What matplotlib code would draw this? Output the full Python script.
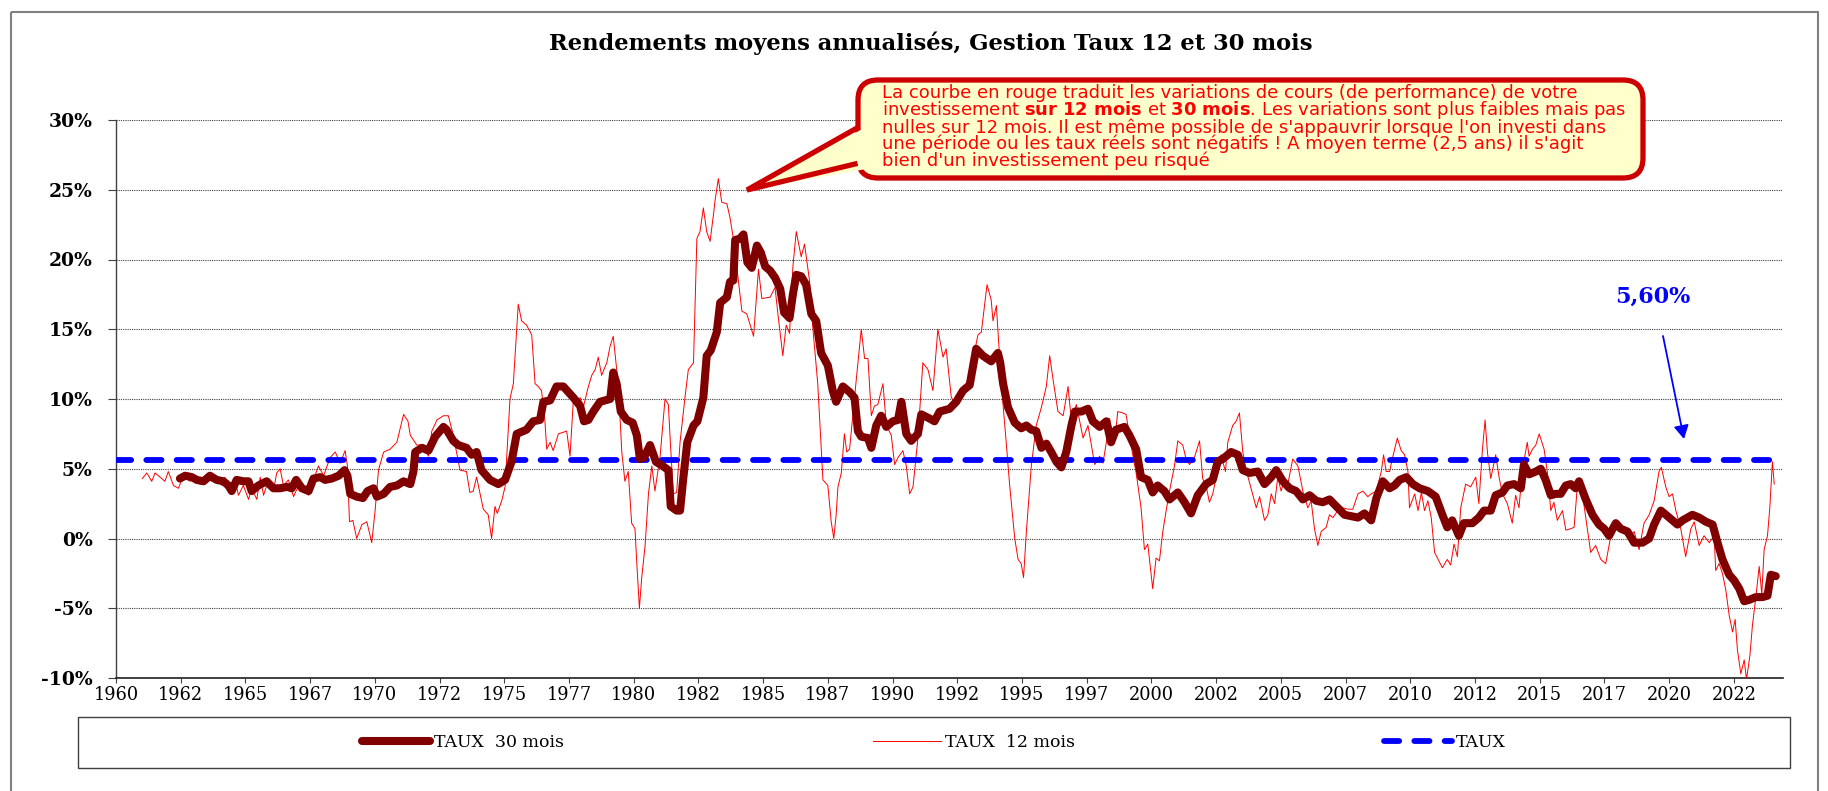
import numpy as np
import matplotlib.pyplot as plt
from matplotlib.patches import FancyBboxPatch, Polygon, Rectangle

plt.rcParams.update({"font.family": "DejaVu Serif"})
plt.rcParams.update({"mathtext.fontset": "dejavusans"})

W, H = 1828, 791

# ---------------------------------------------------------------------------
# data (% per year)
# ---------------------------------------------------------------------------
# TAUX 30 mois (thick dark red)
d30 = [1962.47, 1962.67, 1962.93, 1963.12, 1963.38, 1963.63, 1963.89, 1964.15,
       1964.34, 1964.47, 1964.66, 1964.92, 1965.12, 1965.24, 1965.50, 1965.82,
       1966.08, 1966.34, 1966.60, 1966.79, 1966.96, 1967.18, 1967.44, 1967.63,
       1967.89, 1968.08, 1968.34, 1968.60, 1968.83, 1968.94, 1969.05, 1969.30,
       1969.54, 1969.72, 1969.95, 1970.08, 1970.34, 1970.59, 1970.85, 1971.11,
       1971.37, 1971.49, 1971.56, 1971.82, 1972.07, 1972.33, 1972.65, 1972.77,
       1973.03, 1973.22, 1973.54, 1973.74, 1973.93, 1974.12, 1974.45, 1974.77,
       1975.03, 1975.28, 1975.48, 1975.86, 1976.12, 1976.38, 1976.51, 1976.77,
       1977.02, 1977.28, 1977.67, 1977.93, 1978.08, 1978.25, 1978.44, 1978.70,
       1979.09, 1979.21, 1979.34, 1979.50, 1979.73, 1979.96, 1980.12, 1980.24,
       1980.40, 1980.63, 1980.86, 1981.12, 1981.34, 1981.43, 1981.66, 1981.79,
       1981.92, 1982.07, 1982.31, 1982.46, 1982.69, 1982.82, 1982.98, 1983.21,
       1983.34, 1983.60, 1983.72, 1983.85, 1983.92, 1984.11, 1984.24, 1984.39,
       1984.56, 1984.76, 1984.91, 1985.08, 1985.27, 1985.46, 1985.66, 1985.81,
       1986.02, 1986.15, 1986.28, 1986.47, 1986.66, 1986.86, 1987.05, 1987.24,
       1987.50, 1987.69, 1987.82, 1988.08, 1988.34, 1988.53, 1988.66, 1988.79,
       1989.05, 1989.18, 1989.37, 1989.56, 1989.76, 1990.01, 1990.21, 1990.34,
       1990.53, 1990.72, 1990.98, 1991.11, 1991.43, 1991.62, 1991.82, 1992.20,
       1992.46, 1992.72, 1992.98, 1993.23, 1993.49, 1993.81, 1994.07, 1994.16,
       1994.27, 1994.46, 1994.72, 1994.97, 1995.17, 1995.36, 1995.55, 1995.75,
       1995.94, 1996.13, 1996.33, 1996.52, 1996.71, 1996.91, 1997.04, 1997.29,
       1997.55, 1997.74, 1998.00, 1998.26, 1998.44, 1998.63, 1998.96, 1999.15,
       1999.41, 1999.60, 1999.86, 2000.05, 2000.24, 2000.50, 2000.70, 2001.02,
       2001.28, 2001.53, 2001.79, 2002.11, 2002.37, 2002.56, 2002.82, 2003.08,
       2003.34, 2003.53, 2003.79, 2004.11, 2004.37, 2004.63, 2004.82, 2005.08,
       2005.34, 2005.59, 2005.85, 2006.11, 2006.37, 2006.62, 2006.88, 2007.20,
       2007.46, 2007.72, 2007.98, 2008.23, 2008.49, 2008.69, 2008.94, 2009.20,
       2009.39, 2009.59, 2009.85, 2010.10, 2010.36, 2010.68, 2010.98, 2011.24,
       2011.43, 2011.62, 2011.88, 2012.07, 2012.40, 2012.65, 2012.85, 2013.11,
       2013.30, 2013.56, 2013.75, 2014.01, 2014.27, 2014.39, 2014.59, 2014.85,
       2015.04, 2015.23, 2015.43, 2015.62, 2015.81, 2016.01, 2016.20, 2016.39,
       2016.52, 2016.78, 2017.04, 2017.29, 2017.49, 2017.68, 2017.94, 2018.13,
       2018.39, 2018.65, 2018.97, 2019.23, 2019.42, 2019.68, 2019.94, 2020.19,
       2020.32, 2020.52, 2020.90, 2021.16, 2021.42, 2021.68, 2021.87, 2022.06,
       2022.32, 2022.51, 2022.71, 2022.90, 2023.09, 2023.35, 2023.61, 2023.80,
       2023.93, 2024.12]
taux30 = [4.3, 4.5, 4.4, 4.2, 4.1, 4.5, 4.2, 4.1,
          3.8, 3.4, 4.2, 4.1, 4.1, 3.4, 3.8, 4.1,
          3.6, 3.6, 3.7, 3.6, 4.2, 3.6, 3.4, 4.3,
          4.4, 4.2, 4.3, 4.5, 4.9, 4.5, 3.2, 3.0,
          2.9, 3.4, 3.6, 3.0, 3.2, 3.7, 3.8, 4.1,
          3.9, 4.8, 6.2, 6.5, 6.3, 7.3, 8.0, 7.8,
          7.0, 6.7, 6.5, 6.0, 6.2, 4.9, 4.2, 3.9,
          4.2, 5.5, 7.5, 7.8, 8.4, 8.5, 9.8, 9.9,
          10.9, 10.9, 10.1, 9.5, 8.4, 8.5, 9.1, 9.8,
          10.0, 11.9, 11.1, 9.1, 8.5, 8.3, 7.4, 5.7,
          5.8, 6.7, 5.5, 5.2, 4.9, 2.3, 2.0, 2.0,
          4.4, 6.9, 8.1, 8.4, 10.1, 13.1, 13.5, 14.8,
          16.9, 17.3, 18.4, 18.5, 21.4, 21.5, 21.8, 19.8,
          19.4, 21.0, 20.5, 19.5, 19.2, 18.7, 17.9, 16.2,
          15.8, 17.5, 18.9, 18.8, 18.2, 16.1, 15.6, 13.3,
          12.4, 10.6, 9.8, 10.9, 10.5, 10.1, 7.7, 7.3,
          7.2, 6.5, 8.1, 8.8, 8.0, 8.4, 8.5, 9.8,
          7.5, 7.0, 7.5, 8.9, 8.6, 8.4, 9.1, 9.3,
          9.8, 10.6, 11.0, 13.6, 13.1, 12.7, 13.3, 12.6,
          11.1, 9.4, 8.3, 7.9, 8.1, 7.8, 7.7, 6.5,
          6.8, 6.2, 5.5, 5.1, 6.2, 8.1, 9.1, 9.1,
          9.3, 8.4, 8.0, 8.4, 6.9, 7.8, 8.0, 7.4,
          6.4, 4.4, 4.2, 3.3, 3.8, 3.4, 2.8, 3.3,
          2.6, 1.8, 3.1, 3.9, 4.2, 5.5, 5.8, 6.2,
          6.0, 4.9, 4.7, 4.8, 3.9, 4.4, 4.9, 4.1,
          3.6, 3.4, 2.8, 3.1, 2.7, 2.6, 2.8, 2.2,
          1.7, 1.6, 1.5, 1.8, 1.3, 2.9, 4.1, 3.6,
          3.8, 4.2, 4.4, 3.9, 3.6, 3.4, 3.0, 1.7,
          0.8, 1.3, 0.2, 1.1, 1.1, 1.5, 2.0, 2.0,
          3.1, 3.3, 3.8, 3.9, 3.6, 5.3, 4.6, 4.8,
          5.0, 4.2, 3.1, 3.2, 3.2, 3.8, 3.9, 3.6,
          4.1, 2.8, 1.7, 1.0, 0.7, 0.2, 1.1, 0.7,
          0.5, -0.3, -0.3, 0.0, 1.0, 2.0, 1.6, 1.2,
          1.0, 1.3, 1.7, 1.5, 1.2, 1.0, -0.3, -1.5,
          -2.6, -3.0, -3.6, -4.5, -4.4, -4.2, -4.2, -4.1,
          -2.6, -2.7]

# TAUX 12 mois (thin red)
d12 = [1961.02, 1961.19, 1961.38, 1961.51, 1961.70, 1961.89, 1962.02, 1962.22,
       1962.41, 1962.60, 1962.86, 1963.05, 1963.25, 1963.51, 1963.70, 1963.89,
       1964.09, 1964.21, 1964.41, 1964.60, 1964.73, 1964.92, 1965.12, 1965.24,
       1965.44, 1965.57, 1965.70, 1965.89, 1966.08, 1966.21, 1966.34, 1966.47,
       1966.66, 1966.86, 1967.05, 1967.24, 1967.44, 1967.63, 1967.82, 1968.02,
       1968.27, 1968.47, 1968.66, 1968.85, 1968.94, 1969.02, 1969.15, 1969.30,
       1969.50, 1969.69, 1969.88, 1970.01, 1970.14, 1970.34, 1970.59, 1970.85,
       1971.11, 1971.28, 1971.37, 1971.62, 1971.88, 1972.07, 1972.20, 1972.40,
       1972.65, 1972.84, 1973.03, 1973.29, 1973.54, 1973.67, 1973.80, 1973.93,
       1974.19, 1974.38, 1974.51, 1974.64, 1974.73, 1974.90, 1975.03, 1975.22,
       1975.35, 1975.54, 1975.67, 1975.86, 1976.06, 1976.19, 1976.31, 1976.44,
       1976.57, 1976.64, 1976.77, 1976.89, 1977.09, 1977.41, 1977.54, 1977.67,
       1977.80, 1977.93, 1978.05, 1978.25, 1978.38, 1978.51, 1978.63, 1978.76,
       1978.96, 1979.09, 1979.21, 1979.41, 1979.54, 1979.66, 1979.79, 1979.92,
       1980.05, 1980.12, 1980.22, 1980.31, 1980.44, 1980.57, 1980.70, 1980.82,
       1981.02, 1981.21, 1981.34, 1981.40, 1981.53, 1981.66, 1981.79, 1981.98,
       1982.11, 1982.31, 1982.44, 1982.56, 1982.69, 1982.82, 1982.95, 1983.08,
       1983.14, 1983.27, 1983.40, 1983.60, 1983.72, 1983.85, 1983.98, 1984.18,
       1984.37, 1984.63, 1984.82, 1984.95, 1985.27, 1985.46, 1985.57, 1985.76,
       1985.89, 1986.02, 1986.15, 1986.28, 1986.47, 1986.60, 1986.79, 1986.92,
       1987.11, 1987.31, 1987.50, 1987.63, 1987.73, 1987.82, 1987.89, 1988.02,
       1988.14, 1988.23, 1988.34, 1988.53, 1988.79, 1988.92, 1989.05, 1989.18,
       1989.30, 1989.43, 1989.63, 1989.76, 1989.95, 1990.08, 1990.21, 1990.40,
       1990.53, 1990.66, 1990.79, 1990.98, 1991.17, 1991.37, 1991.56, 1991.75,
       1991.95, 1992.07, 1992.27, 1992.46, 1992.65, 1992.91, 1993.11, 1993.30,
       1993.43, 1993.56, 1993.65, 1993.81, 1993.88, 1994.01, 1994.20, 1994.39,
       1994.52, 1994.72, 1994.85, 1994.97, 1995.06, 1995.17, 1995.36, 1995.55,
       1995.75, 1995.94, 1996.07, 1996.20, 1996.39, 1996.59, 1996.78, 1996.91,
       1997.10, 1997.36, 1997.55, 1997.68, 1997.81, 1998.00, 1998.13, 1998.26,
       1998.38, 1998.57, 1998.70, 1998.89, 1999.02, 1999.21, 1999.41, 1999.60,
       1999.73, 1999.86, 2000.05, 2000.18, 2000.31, 2000.44, 2000.57, 2000.70,
       2000.89, 2001.02, 2001.21, 2001.34, 2001.47, 2001.66, 2001.86, 2001.98,
       2002.11, 2002.24, 2002.37, 2002.50, 2002.69, 2002.86, 2002.95, 2003.14,
       2003.27, 2003.40, 2003.53, 2003.66, 2003.85, 2004.05, 2004.18, 2004.37,
       2004.50, 2004.63, 2004.76, 2004.88, 2005.01, 2005.14, 2005.27, 2005.46,
       2005.66, 2005.85, 2006.04, 2006.17, 2006.30, 2006.43, 2006.56, 2006.75,
       2006.88, 2007.01, 2007.20, 2007.40, 2007.59, 2007.78, 2007.98, 2008.17,
       2008.36, 2008.49, 2008.69, 2008.88, 2008.97, 2009.07, 2009.20, 2009.33,
       2009.50, 2009.65, 2009.78, 2009.91, 2009.97, 2010.17, 2010.30, 2010.43,
       2010.55, 2010.68, 2010.81, 2010.94, 2011.24, 2011.43, 2011.56, 2011.69,
       2011.82, 2011.95, 2012.14, 2012.33, 2012.53, 2012.65, 2012.78, 2012.89,
       2012.98, 2013.11, 2013.30, 2013.43, 2013.56, 2013.75, 2013.94, 2014.07,
       2014.20, 2014.33, 2014.52, 2014.59, 2014.72, 2014.85, 2014.98, 2015.17,
       2015.30, 2015.43, 2015.55, 2015.68, 2015.88, 2016.01, 2016.20, 2016.33,
       2016.46, 2016.65, 2016.84, 2016.97, 2017.16, 2017.36, 2017.55, 2017.74,
       2017.87, 2018.07, 2018.26, 2018.45, 2018.65, 2018.84, 2019.03, 2019.23,
       2019.42, 2019.61, 2019.70, 2019.87, 2020.00, 2020.13, 2020.26, 2020.45,
       2020.64, 2020.84, 2020.97, 2021.16, 2021.35, 2021.55, 2021.74, 2021.80,
       2021.93, 2022.06, 2022.19, 2022.32, 2022.45, 2022.55, 2022.64, 2022.77,
       2022.90, 2022.99, 2023.12, 2023.22, 2023.35, 2023.48, 2023.58, 2023.67,
       2023.80, 2023.89, 2023.99, 2024.06]
taux12 = [4.3, 4.7, 4.1, 4.7, 4.4, 4.1, 4.8, 3.8,
          3.6, 4.5, 4.1, 4.5, 3.9, 4.4, 4.1, 4.4,
          3.8, 4.4, 3.2, 4.2, 3.1, 3.8, 2.8, 3.6,
          2.8, 4.4, 3.1, 4.2, 3.4, 4.7, 5.0, 3.8,
          4.2, 3.0, 3.8, 3.6, 3.1, 4.2, 5.2, 4.5,
          5.8, 6.2, 5.4, 6.3, 5.2, 1.2, 1.3, 0.0,
          1.0, 1.2, -0.3, 2.0, 4.9, 6.2, 6.4, 6.9,
          8.9, 8.4, 7.4, 6.7, 6.7, 5.9, 7.7, 8.5,
          8.8, 8.8, 7.4, 4.9, 4.8, 3.3, 3.4, 4.4,
          2.1, 1.7, 0.0, 2.3, 1.8, 2.7, 3.7, 10.0,
          11.1, 16.8, 15.6, 15.3, 14.6, 11.1, 10.9, 10.6,
          8.4, 6.4, 6.9, 6.3, 7.5, 7.7, 5.9, 10.0,
          9.6, 10.1, 9.4, 10.9, 11.7, 12.1, 13.0, 11.7,
          12.6, 13.8, 14.5, 10.9, 6.2, 4.1, 4.8, 1.1,
          0.7, -1.8, -5.0, -2.8, -0.5, 3.2, 5.2, 3.4,
          5.9, 10.0, 9.6, 7.4, 3.2, 3.3, 6.9, 10.1,
          12.1, 12.6, 21.5, 22.0, 23.7, 22.0, 21.3, 23.2,
          24.2, 25.8, 24.1, 24.0, 23.0, 21.5, 19.5, 16.3,
          16.1, 14.5, 19.3, 17.2, 17.3, 18.0, 16.1, 13.1,
          15.3, 14.7, 19.5, 22.0, 20.2, 21.1, 18.5, 15.1,
          11.1, 4.2, 3.8, 1.2, 0.0, 1.7, 3.7, 4.7,
          7.5, 6.2, 6.4, 10.1, 15.0, 12.9, 12.9, 8.8,
          9.5, 9.6, 11.1, 8.1, 7.4, 5.3, 5.8, 6.3,
          5.2, 3.2, 3.7, 7.2, 12.6, 12.1, 10.6, 15.0,
          13.0, 13.6, 10.1, 9.6, 10.1, 11.4, 12.9, 14.6,
          14.8, 16.8, 18.2, 17.1, 15.6, 16.7, 11.1, 6.9,
          3.9, 0.0, -1.5, -1.8, -2.8, 0.5, 5.2, 8.1,
          9.4, 10.9, 13.1, 11.4, 9.1, 8.8, 10.9, 8.4,
          9.6, 7.2, 8.1, 6.7, 5.3, 5.9, 5.4, 6.9,
          8.6, 6.8, 9.1, 9.0, 8.9, 6.7, 4.7, 2.2,
          -0.8, -0.4, -3.6, -1.4, -1.6, 0.5, 2.0, 3.4,
          5.2, 7.0, 6.7, 5.7, 5.3, 5.8, 7.0, 4.3,
          3.8, 2.6, 3.2, 4.4, 6.0, 4.8, 6.9, 8.1,
          8.4, 9.0, 6.2, 4.9, 3.6, 2.2, 3.0, 1.3,
          1.7, 3.2, 2.5, 4.4, 3.4, 4.2, 3.9, 5.7,
          5.2, 3.4, 2.2, 2.7, 0.7, -0.5, 0.5, 0.8,
          1.7, 1.5, 2.0, 2.2, 2.1, 2.1, 3.2, 3.4,
          3.0, 3.2, 3.4, 4.8, 6.0, 4.8, 4.8, 5.9,
          7.2, 6.3, 6.0, 4.8, 2.2, 3.2, 2.0, 3.3,
          2.0, 2.7, 1.5, -1.0, -2.1, -1.5, -1.9, -0.4,
          -1.3, 2.2, 3.9, 3.7, 4.4, 2.5, 6.2, 8.5,
          6.2, 4.3, 6.0, 4.4, 3.2, 2.5, 1.1, 3.1,
          2.2, 4.9, 6.9, 5.9, 6.4, 6.7, 7.5, 6.4,
          4.7, 2.0, 2.6, 1.3, 2.0, 0.6, 0.7, 0.8,
          3.9, 3.2, 0.7, -1.0, -0.5, -1.5, -1.8, 0.1,
          1.2, 1.1, 0.5, 0.0, 0.5, -0.8, 1.1, 1.7,
          2.7, 4.8, 5.1, 3.7, 3.0, 3.2, 2.0, 0.7,
          -1.3, 0.7, 1.2, -0.5, 0.2, -0.3, 0.2, -2.3,
          -1.8, -2.5, -3.7, -5.5, -6.7, -5.8, -8.0, -9.7,
          -8.7, -10.1, -8.4, -6.2, -4.2, -2.0, -4.0, -0.8,
          0.2, 2.2, 5.5, 3.9]

# TAUX (average rate, dashed blue)
d_taux = [1960.0, 2024.2]
taux = [5.6, 5.6]

# axis ticks
x_ticks = [1960 + 2.5 * k for k in range(26)]
x_labels = [str(int(t)) for t in x_ticks]
y_ticks = [-10, -5, 0, 5, 10, 15, 20, 25, 30]
y_labels = [f"{v}%" for v in y_ticks]

title = "Rendements moyens annualisés, Gestion Taux 12 et 30 mois"
note = ["La courbe en rouge traduit les variations de cours (de performance) de votre",
        r"investissement $\mathbf{sur\ 12\ mois}$ et $\mathbf{30\ mois}$. Les variations sont plus faibles mais pas",
        "nulles sur 12 mois. Il est même possible de s'appauvrir lorsque l'on investi dans",
        "une période ou les taux réels sont négatifs ! A moyen terme (2,5 ans) il s'agit",
        "bien d'un investissement peu risqué"]


def fx(px):
    return px / W


def fy(py):
    return 1 - py / H


fig = plt.figure(figsize=(W / 100, H / 100), dpi=100)
ax = fig.add_axes([fx(116), fy(678), fx(1782.5) - fx(116), fy(120) - fy(678)])

ax.plot(d12, taux12, color="#FF0000", lw=0.7, label="TAUX  12 mois", zorder=3)
ax.plot(d_taux, taux, color="#0000FF", lw=4.2, linestyle=(0, (2.6, 2.6)),
        dash_capstyle="round", label="TAUX", zorder=4)
ax.plot(d30, taux30, color="#800000", lw=5.8, solid_joinstyle="round",
        solid_capstyle="round", label="TAUX  30 mois", zorder=5)

ax.set_xlim(1960, 2024.38)
ax.set_ylim(-10, 30)
ax.set_xticks(x_ticks)
ax.set_xticklabels(x_labels, fontsize=12.8)
ax.set_yticks(y_ticks)
ax.set_yticklabels(y_labels, fontsize=13.5, fontweight="bold")
ax.tick_params(axis="y", direction="out", length=5.8, width=0.8, pad=11, color="#404040")
ax.tick_params(axis="x", direction="out", length=3.6, width=0.8, pad=2.5, color="#404040")
ax.yaxis.grid(True, color="#404040", linestyle=(0, (1, 1)), lw=0.8)
ax.set_axisbelow(True)
for s in ["top", "right"]:
    ax.spines[s].set_visible(False)
ax.spines["left"].set_color("#404040")
ax.spines["bottom"].set_color("#202020")
ax.spines["left"].set_linewidth(1.0)
ax.spines["bottom"].set_linewidth(1.2)

h, l = ax.get_legend_handles_labels()
order = [2, 0, 1]
ax.legend([h[i] for i in order], [l[i] for i in order], loc="center",
          bbox_to_anchor=(fx(934), fy(742.5)), bbox_transform=fig.transFigure,
          ncol=3, frameon=False, fontsize=12.5, handlelength=3.9,
          handletextpad=0.25, columnspacing=17.8)

# overlay in pixel coordinates for the decorations
ov = fig.add_axes([0, 0, 1, 1])
ov.set_xlim(0, W)
ov.set_ylim(H, 0)
ov.axis("off")

ov.add_patch(Rectangle((11, 12), 1807, 800, fill=False, edgecolor="#808080", lw=1.5))
ov.add_patch(Rectangle((78, 717), 1712, 51, fill=False, edgecolor="#404040", lw=1.0))

ov.text(931, 43, title, ha="center", va="center", fontsize=16.3, fontweight="bold")

# callout
ov.add_patch(FancyBboxPatch((858, 80), 785, 98, boxstyle="round,pad=0,rounding_size=20",
                            facecolor="#FFFFCC", edgecolor="#CC0000", lw=3.8, zorder=2))
ov.add_patch(Polygon([(747, 190), (872, 124), (872, 168)], closed=True,
                     facecolor="#FFFFCC", edgecolor="none", zorder=3))
ov.plot([857, 747, 855], [128, 190, 164], color="#CC0000", lw=3.8,
        solid_joinstyle="miter", zorder=4)
for i, line in enumerate(note):
    ov.text(882, 93.5 + i * 16.9, line, ha="left", va="center", color="#FF0000",
            fontsize=13, family="DejaVu Sans", zorder=5)

# 5,60% label and arrow
ov.text(1653, 297, "5,60%", ha="center", va="center", color="#0000FF",
        fontsize=16, fontweight="bold")
ov.annotate("", xy=(1684, 439), xytext=(1663, 336),
            arrowprops=dict(arrowstyle="-|>,head_length=0.45,head_width=0.25",
                            color="#0000FF", lw=1.3, mutation_scale=18,
                            shrinkA=0, shrinkB=0))

fig.savefig("out.png", dpi=100)
